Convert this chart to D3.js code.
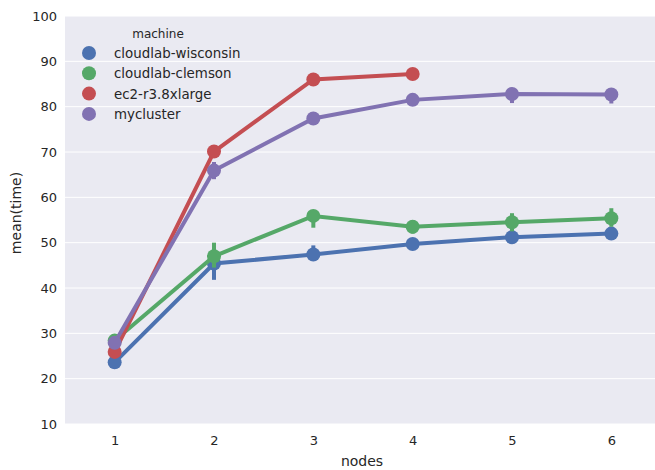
<!DOCTYPE html>
<html>
<head>
<meta charset="utf-8">
<script src="https://cdn.jsdelivr.net/npm/d3@7"></script>
<style>
	body { margin: 0; background: #fff; }
	svg { font-family: "DejaVu Sans", sans-serif; }
</style>
</head>
<body>
<svg id="chart" width="655" height="470"></svg>
<script>

var nodes = [1, 2, 3, 4, 5, 6];
var machines = ["cloudlab-wisconsin", "cloudlab-clemson", "ec2-r3.8xlarge", "mycluster"];
var colors = ["#4C72B0", "#55A868", "#C44E52", "#8172B2"];
var yTicks = [10, 20, 30, 40, 50, 60, 70, 80, 90, 100];

// mean(time) per node count, null = no run
var wisconsin = [23.6, 45.4, 47.4, 49.7, 51.2, 52.0];
var clemson = [28.4, 47.0, 55.9, 53.5, 54.5, 55.4];
var ec2 = [25.9, 70.1, 86.0, 87.2, null, null];
var mycluster = [27.9, 65.9, 77.4, 81.5, 82.8, 82.7];

// confidence intervals [lo, hi]
var wisconsinCI = [[23, 24.3], [41.8, 48.0], [46.0, 49.4], [49.0, 50.4], [50.5, 52.0], [51.4, 52.7]];
var clemsonCI = [[27.8, 29.0], [44.5, 50.0], [53.3, 57.0], [52.0, 55.0], [52.5, 56.5], [53.5, 57.6]];
var ec2CI = [[25.3, 26.5], [69.0, 71.2], [85.3, 86.7], [86.6, 87.8], null, null];
var myclusterCI = [[27.3, 28.5], [64.0, 67.8], [76.5, 78.3], [80.8, 82.2], [80.8, 83.5], [80.7, 83.5]];

var series = [
	{ name: machines[0], values: wisconsin, ci: wisconsinCI },
	{ name: machines[1], values: clemson, ci: clemsonCI },
	{ name: machines[2], values: ec2, ci: ec2CI },
	{ name: machines[3], values: mycluster, ci: myclusterCI },
];

var svg = d3.select("#chart");
var [ mT, mR, mB, mL ] = [ 16, -6, 46, 65 ];
var width = 655, height = 470;

var x = d3.scalePoint(nodes, [ mL, width - mR ]).padding(0.5);
var y = d3.scaleLinear([10, 100], [ height - mB, mT ]);

svg.append("rect")
	.attr("x", mL).attr("y", mT)
	.attr("width", width - mR - mL).attr("height", height - mB - mT)
	.attr("fill", "#EAEAF2");

svg.append("g")
	.selectAll("line")
	.data(yTicks)
	.join("line")
	.attr("x1", mL).attr("x2", width - mR)
	.attr("y1", d => y(d)).attr("y2", d => y(d))
	.attr("stroke", "#fff").attr("stroke-width", 1);

var yAxis = svg.append("g")
	.attr("transform", `translate(${mL}, 0)`)
	.call(d3.axisLeft(y).tickValues(yTicks).tickSize(0).tickPadding(8));
var xAxis = svg.append("g")
	.attr("transform", `translate(0, ${height - mB})`)
	.call(d3.axisBottom(x).tickSize(0).tickPadding(12));

[yAxis, xAxis].forEach(a => {
	a.select(".domain").remove();
	a.selectAll("text").attr("font-size", 13).attr("fill", "#262626").attr("font-family", "DejaVu Sans, sans-serif");
});

svg.append("text")
	.attr("x", 362).attr("y", 466)
	.attr("text-anchor", "middle").attr("font-size", 14).attr("fill", "#262626")
	.text("nodes");

svg.append("text")
	.attr("transform", "translate(21, 213) rotate(-90)")
	.attr("text-anchor", "middle").attr("font-size", 14).attr("fill", "#262626")
	.text("mean(time)");

var line = d3.line()
	.defined(d => d.v !== null)
	.x(d => x(d.n))
	.y(d => y(d.v));

series.forEach((s, i) => {

	var pts = nodes.map((n, j) => ({ n: n, v: s.values[j], ci: s.ci[j] }));
	var g = svg.append("g");

	g.append("path")
		.datum(pts)
		.attr("d", line)
		.attr("fill", "none")
		.attr("stroke", colors[i])
		.attr("stroke-width", 4);

	g.selectAll("line.ci")
		.data(pts.filter(d => d.ci))
		.join("line")
		.attr("class", "ci")
		.attr("x1", d => x(d.n)).attr("x2", d => x(d.n))
		.attr("y1", d => y(d.ci[0])).attr("y2", d => y(d.ci[1]))
		.attr("stroke", colors[i])
		.attr("stroke-width", 4);

	g.selectAll("circle")
		.data(pts.filter(d => d.v !== null))
		.join("circle")
		.attr("cx", d => x(d.n)).attr("cy", d => y(d.v))
		.attr("r", 7)
		.attr("fill", colors[i]);
});

// legend
var leg = svg.append("g");
leg.append("text")
	.attr("x", 158).attr("y", 38)
	.attr("text-anchor", "middle").attr("font-size", 12).attr("fill", "#262626")
	.text("machine");

leg.selectAll("g.item")
	.data(machines)
	.join("g")
	.attr("class", "item")
	.attr("transform", (d, i) => `translate(0, ${53 + i * 20.3})`)
	.each(function(d, i) {
		var it = d3.select(this);
		it.append("circle").attr("cx", 89).attr("cy", 0).attr("r", 7).attr("fill", colors[i]);
		it.append("text").attr("x", 114).attr("y", 5)
			.attr("font-size", 13.4).attr("fill", "#262626").text(d);
	});

</script>
</body>
</html>
